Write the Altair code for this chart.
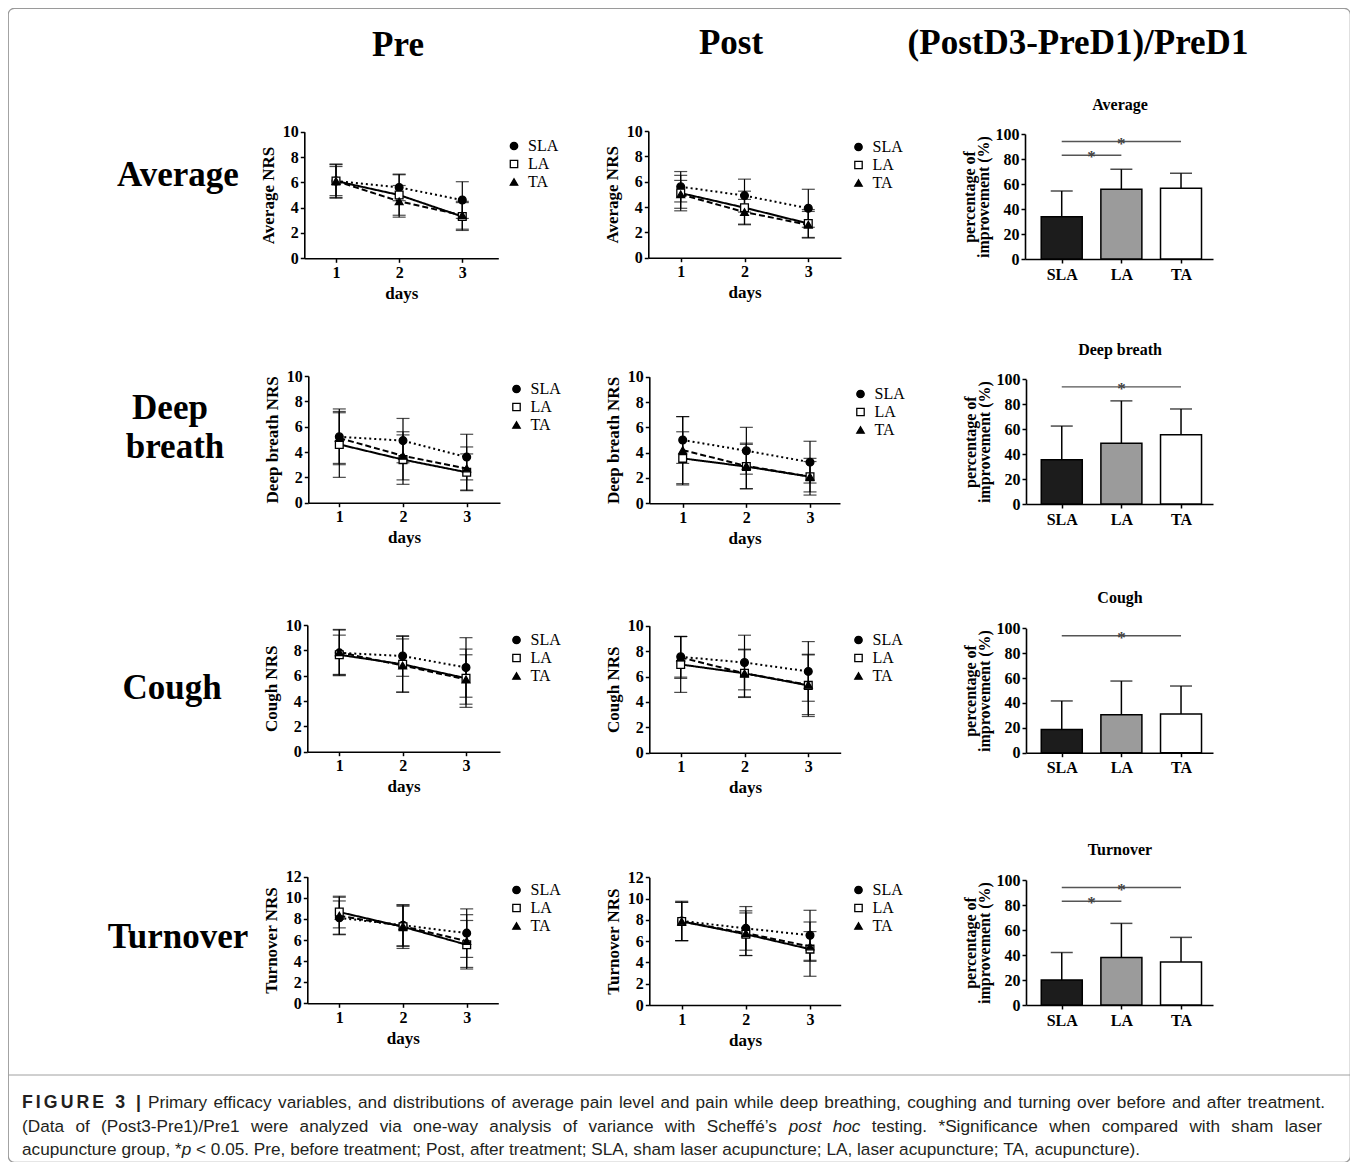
import json
import altair as alt
import pandas as pd

# ---------------- data ----------------
DAYS = [1, 2, 3]
GROUPS = ["SLA", "LA", "TA"]

pre_average_mean = {"SLA": [6.1, 5.6, 4.6], "LA": [6.1, 5.0, 3.3], "TA": [6.1, 4.5, 3.4]}
pre_average_sd = {"SLA": [1.3, 1.05, 1.45], "LA": [1.35, 1.6, 1.1], "TA": [1.15, 1.25, 1.1]}
post_average_mean = {"SLA": [5.6, 4.9, 3.9], "LA": [5.1, 3.95, 2.7], "TA": [5.0, 3.6, 2.6]}
post_average_sd = {"SLA": [1.2, 1.3, 1.5], "LA": [1.4, 1.3, 1.1], "TA": [1.1, 1.0, 1.05]}

pre_deep_mean = {"SLA": [5.2, 4.9, 3.6], "LA": [4.6, 3.4, 2.4], "TA": [5.1, 3.7, 2.7]}
pre_deep_sd = {"SLA": [2.2, 1.75, 1.8], "LA": [2.6, 1.95, 1.45], "TA": [2.0, 1.9, 1.7]}
post_deep_mean = {"SLA": [5.0, 4.15, 3.25], "LA": [3.55, 2.9, 2.1], "TA": [4.2, 2.95, 2.1]}
post_deep_sd = {"SLA": [1.85, 1.85, 1.65], "LA": [2.1, 1.75, 1.2], "TA": [2.65, 1.8, 1.45]}

pre_cough_mean = {"SLA": [7.8, 7.55, 6.65], "LA": [7.65, 6.9, 5.8], "TA": [7.85, 6.8, 5.7]}
pre_cough_sd = {"SLA": [1.8, 1.6, 2.35], "LA": [1.55, 2.2, 2.3], "TA": [1.8, 2.1, 1.95]}
post_cough_mean = {"SLA": [7.55, 7.1, 6.4], "LA": [6.95, 6.25, 5.3], "TA": [7.5, 6.25, 5.35]}
post_cough_sd = {"SLA": [1.6, 2.15, 2.35], "LA": [2.2, 1.9, 2.45], "TA": [1.65, 1.85, 2.35]}

pre_turn_mean = {"SLA": [8.1, 7.4, 6.65], "LA": [8.65, 7.25, 5.55], "TA": [8.3, 7.3, 5.9]}
pre_turn_sd = {"SLA": [1.6, 1.95, 2.3], "LA": [1.5, 2.05, 2.3], "TA": [1.75, 1.9, 2.5]}
post_turn_mean = {"SLA": [7.9, 7.2, 6.55], "LA": [7.85, 6.65, 5.25], "TA": [7.85, 6.75, 5.5]}
post_turn_sd = {"SLA": [1.85, 2.05, 2.35], "LA": [1.8, 2.0, 2.55], "TA": [1.8, 2.1, 1.4]}

average_impr = [33.8, 55.8, 56.6]
average_impr_sd = [20.6, 16.0, 12.0]
average_sig = [(1, 3, 94), (1, 2, 83)]
deep_impr = [35.5, 48.7, 55.5]
deep_impr_sd = [27.0, 34.0, 20.7]
deep_sig = [(1, 3, 94)]
cough_impr = [18.6, 30.5, 31.2]
cough_impr_sd = [23.0, 27.1, 22.4]
cough_sig = [(1, 3, 94)]
turn_impr = [20.0, 38.0, 34.5]
turn_impr_sd = [22.0, 27.3, 19.6]
turn_sig = [(1, 3, 94), (1, 2, 83)]

col_titles = ["Pre", "Post", "(PostD3-PreD1)/PreD1"]
row_titles = ["Average", "Deep breath", "Cough", "Turnover"]
caption_bold = "FIGURE 3 |"
caption_l1 = "Primary efficacy variables, and distributions of average pain level and pain while deep breathing, coughing and turning over before and after treatment."
caption_l2 = "(Data of (Post3-Pre1)/Pre1 were analyzed via one-way analysis of variance with Scheffé’s _post_ _hoc_ testing. *Significance when compared with sham laser"
caption_l3 = "acupuncture group, *_p_ < 0.05. Pre, before treatment; Post, after treatment; SLA, sham laser acupuncture; LA, laser acupuncture; TA, acupuncture)."

# ---------------- layout ----------------
OFF = 8
W, H = 1342, 1154
SERIF = "Liberation Serif"
SANS = "Liberation Sans"
LINE_STYLE = {"SLA": [2, 3], "LA": [1, 0], "TA": [6, 3]}


def P(v):
    return v - OFF


def dummy():
    return pd.DataFrame({"k": [0]})


def label(text, x, y, size, weight="bold", font=SERIF, align="center", style="normal", color="black"):
    return alt.Chart(dummy()).mark_text(
        text=text, font=font, fontSize=size, fontWeight=weight, fontStyle=style,
        align=align, baseline="middle", color=color, fill=color
    ).encode(x=alt.value(P(x)), y=alt.value(P(y)))


def line_panel(means, sds, ymax, ytitle, ax_x, t1, t3, xend, y0, ytop, leg_cx, leg_cy):
    rows = []
    for g in GROUPS:
        for d, m, s in zip(DAYS, means[g], sds[g]):
            rows.append({"day": d, "group": g, "mean": m, "lo": m - s, "hi": m + s})
    df = pd.DataFrame(rows)
    ppd = (t3 - t1) / 2.0
    dlo = 1 - (t1 - ax_x) / ppd
    dhi = 3 + (xend - t3) / ppd
    xs = alt.Scale(domain=[dlo, dhi], range=[P(ax_x), P(xend)], nice=False, zero=False)
    ys = alt.Scale(domain=[0, ymax], range=[P(y0), P(ytop)], nice=False, zero=False)
    xax = alt.Axis(orient="bottom", offset=P(y0) - H, values=DAYS, title="days", titlePadding=5, format="d")
    yax = alt.Axis(orient="left", offset=-P(ax_x), values=list(range(0, ymax + 1, 2)), title=ytitle, titlePadding=5)
    X = alt.X("day:Q", scale=xs, axis=xax)

    def Y(f):
        return alt.Y(f, scale=ys, axis=yax)

    base = alt.Chart(df)
    parts = []
    parts.append(base.mark_rule(color="black", strokeWidth=1.2).encode(x=X, y=Y("lo:Q"), y2="hi:Q"))
    parts.append(base.mark_tick(orient="horizontal", size=13, thickness=1.2, color="black").encode(x=X, y=Y("lo:Q")))
    parts.append(base.mark_tick(orient="horizontal", size=13, thickness=1.2, color="black").encode(x=X, y=Y("hi:Q")))
    for g in GROUPS:
        parts.append(base.transform_filter(alt.datum.group == g).mark_line(
            color="black", strokeWidth=2, strokeDash=LINE_STYLE[g]).encode(x=X, y=Y("mean:Q")))
    leg = alt.Legend(orient="none", legendX=P(leg_cx - 7.5), legendY=P(leg_cy - 8), title=None,
                     symbolStrokeWidth=1.3)
    parts.append(base.mark_point(filled=False, size=60, strokeWidth=1.3, opacity=1).encode(
        x=X, y=Y("mean:Q"),
        shape=alt.Shape("group:N", scale=alt.Scale(domain=GROUPS, range=["circle", "square", "triangle-up"]), legend=leg),
        fill=alt.Fill("group:N", scale=alt.Scale(domain=GROUPS, range=["black", "white", "black"]), legend=leg),
        stroke=alt.Stroke("group:N", scale=alt.Scale(domain=GROUPS, range=["black", "black", "black"]), legend=leg),
    ))
    return alt.layer(*parts)


def bar_panel(means, sds, sig, ax_x, y0, ytop):
    df = pd.DataFrame({"pos": [1, 2, 3], "group": GROUPS, "mean": means,
                       "hi": [m + s for m, s in zip(means, sds)]})
    sdf = pd.DataFrame({"x1": [a for a, b, c in sig], "x2": [b for a, b, c in sig],
                        "y": [c for a, b, c in sig], "mid": [(a + b) / 2 for a, b, c in sig]})
    c1, ppd, xend = 1058.5, 63.0, 1213
    dlo = 1 - (c1 - ax_x) / ppd
    dhi = 1 + (xend - c1) / ppd
    xs = alt.Scale(domain=[dlo, dhi], range=[P(ax_x), P(xend)], nice=False, zero=False)
    ys = alt.Scale(domain=[0, 100], range=[P(y0), P(ytop)], nice=False, zero=True)
    xax = alt.Axis(orient="bottom", offset=P(y0) - H, values=[1, 2, 3],
                   labelExpr=json.dumps(GROUPS) + "[datum.value - 1]", title=None, labelFontSize=16, labelPadding=3)
    yax = alt.Axis(orient="left", offset=-P(ax_x), values=list(range(0, 101, 20)),
                   title=["percentage of", "improvement (%)"], titlePadding=4, titleLineHeight=14,
                   titleFontSize=16)
    X = alt.X("pos:Q", scale=xs, axis=xax)

    def Y(f):
        return alt.Y(f, scale=ys, axis=yax)

    base = alt.Chart(df)
    bars = base.mark_bar(orient="vertical", size=41, stroke="black", strokeWidth=1.5).encode(
        x=X, y=Y("mean:Q"),
        fill=alt.Fill("group:N", scale=alt.Scale(domain=GROUPS, range=["#1c1c1c", "#9b9b9b", "#ffffff"]), legend=None),
    )
    err = base.mark_rule(color="black", strokeWidth=1.5).encode(x=X, y=Y("mean:Q"), y2="hi:Q")
    cap = base.mark_tick(orient="horizontal", size=22, thickness=1.5, color="black").encode(x=X, y=Y("hi:Q"))
    sbase = alt.Chart(sdf)
    srule = sbase.mark_rule(color="#555555", strokeWidth=1.3).encode(
        x=alt.X("x1:Q", scale=xs, axis=xax), x2="x2:Q", y=Y("y:Q"))
    star = sbase.mark_text(text="*", fontSize=17, fontWeight="bold", dy=2, baseline="middle",
                           color="#444444", fill="#444444", font=SERIF).encode(
        x=alt.X("mid:Q", scale=xs, axis=xax), y=Y("y:Q"))
    return alt.layer(bars, err, cap, srule, star)


# ---------------- panels ----------------
layers = []
# row 1
layers.append(line_panel(pre_average_mean, pre_average_sd, 10, "Average NRS", 304.3, 336.0, 462.3, 498.3, 258.3, 131.7, 513.5, 146.0))
layers.append(line_panel(post_average_mean, post_average_sd, 10, "Average NRS", 648.3, 680.7, 808.3, 841.0, 257.7, 131.0, 858.0, 147.0))
layers.append(bar_panel(average_impr, average_impr_sd, average_sig, 1025.0, 259.0, 134.0))
# row 2
layers.append(line_panel(pre_deep_mean, pre_deep_sd, 10, "Deep breath NRS", 308.3, 339.3, 466.7, 500.0, 502.7, 376.0, 516.0, 389.0))
layers.append(line_panel(post_deep_mean, post_deep_sd, 10, "Deep breath NRS", 649.3, 682.7, 810.0, 840.0, 503.3, 376.7, 860.0, 394.0))
layers.append(bar_panel(deep_impr, deep_impr_sd, deep_sig, 1026.0, 504.0, 379.3))
# row 3
layers.append(line_panel(pre_cough_mean, pre_cough_sd, 10, "Cough NRS", 307.3, 339.3, 466.0, 500.0, 751.7, 625.0, 516.0, 640.0))
layers.append(line_panel(post_cough_mean, post_cough_sd, 10, "Cough NRS", 649.3, 680.7, 808.3, 840.7, 752.7, 625.7, 858.0, 640.0))
layers.append(bar_panel(cough_impr, cough_impr_sd, cough_sig, 1026.0, 752.7, 628.3))
# row 4
layers.append(line_panel(pre_turn_mean, pre_turn_sd, 12, "Turnover NRS", 307.3, 339.3, 466.7, 498.3, 1003.3, 876.7, 516.0, 890.0))
layers.append(line_panel(post_turn_mean, post_turn_sd, 12, "Turnover NRS", 649.3, 681.7, 810.0, 840.7, 1005.0, 877.3, 858.0, 890.0))
layers.append(bar_panel(turn_impr, turn_impr_sd, turn_sig, 1026.0, 1005.0, 880.0))

# column titles
layers.append(label(col_titles[0], 398, 45, 35))
layers.append(label(col_titles[1], 731, 43, 35))
layers.append(label(col_titles[2], 1078, 43, 35))
# row titles
layers.append(label(row_titles[0], 178, 175, 35))
layers.append(label(row_titles[1].split(" ")[0], 170, 408, 35))
layers.append(label(row_titles[1].split(" ")[1], 175, 447, 35))
layers.append(label(row_titles[2], 172, 688, 35))
layers.append(label(row_titles[3], 178, 937, 35))
# bar panel titles
layers.append(label(row_titles[0], 1120, 105, 16))
layers.append(label(row_titles[1], 1120, 350, 16))
layers.append(label(row_titles[2], 1120, 598, 16))
layers.append(label(row_titles[3], 1120, 850, 16))

# caption separator
layers.append(alt.Chart(dummy()).mark_rule(color="#a0a0a0", strokeWidth=1).encode(
    x=alt.value(0), x2=alt.value(W), y=alt.value(P(1075))))

# caption text (Arial metrics, justified lines)
AW = {' ': 278, '!': 278, '"': 355, '#': 556, '$': 556, '%': 889, '&': 667, "'": 191, '(': 333, ')': 333,
      '*': 389, '+': 584, ',': 278, '-': 333, '.': 278, '/': 278, ':': 278, ';': 278, '<': 584, '=': 584,
      '>': 584, '?': 556, '|': 260, 'é': 556, '’': 222,
      'A': 667, 'B': 667, 'C': 722, 'D': 722, 'E': 667, 'F': 611, 'G': 778, 'H': 722, 'I': 278, 'J': 500,
      'K': 667, 'L': 556, 'M': 833, 'N': 722, 'O': 778, 'P': 667, 'Q': 778, 'R': 722, 'S': 667, 'T': 611,
      'U': 722, 'V': 667, 'W': 944, 'X': 667, 'Y': 667, 'Z': 611,
      'a': 556, 'b': 556, 'c': 500, 'd': 556, 'e': 556, 'f': 278, 'g': 556, 'h': 556, 'i': 222, 'j': 222,
      'k': 500, 'l': 222, 'm': 833, 'n': 556, 'o': 556, 'p': 556, 'q': 556, 'r': 333, 's': 500, 't': 278,
      'u': 556, 'v': 500, 'w': 722, 'x': 500, 'y': 500, 'z': 500}
ABW = {'F': 611, 'I': 278, 'G': 778, 'U': 722, 'R': 722, 'E': 667, ' ': 278, '3': 556, '|': 280}


def em(s):
    return sum(AW.get(c, 556 if c.isdigit() else 500) for c in s) / 1000.0


def plain(s):
    return s.replace("_", "")


CAP_COLOR = "#231f20"
CAP_X = 22
FS = (1140.0 - CAP_X) / em(plain(caption_l3))


def caption_line(text, x0, y, x1=None):
    words = text.split(" ")
    widths = [em(plain(w)) * FS for w in words]
    space = em(" ") * FS
    if x1 is not None and len(words) > 1:
        gap = (x1 - x0 - sum(widths)) / (len(words) - 1)
    else:
        gap = space
    out = []
    x = x0
    for w, wd in zip(words, widths):
        parts = w.split("_")
        xx = x
        for i, p in enumerate(parts):
            if p:
                out.append(label(p, xx, y, FS, weight="normal", font=SANS, align="left",
                                 style="italic" if i % 2 == 1 else "normal", color=CAP_COLOR))
                xx += em(p) * FS
        x += wd + gap
    return out


# bold figure label, letter-spaced to fill its slot
BFS = FS + 0.5
bold_w = sum(ABW[c] for c in caption_bold) / 1000.0 * BFS
spacing = (141.0 - CAP_X - bold_w) / (len(caption_bold) - 1)
bx = CAP_X
for ch in caption_bold:
    if ch != " ":
        layers.append(label(ch, bx, 1103, BFS, weight="bold", font=SANS, align="left", color=CAP_COLOR))
    bx += ABW[ch] / 1000.0 * BFS + spacing

layers += caption_line(caption_l1, 148, 1103, 1325)
layers += caption_line(caption_l2, CAP_X, 1127, 1322)
layers += caption_line(caption_l3, CAP_X, 1150)

chart = alt.layer(*layers).properties(
    width=W, height=H, padding=0, autosize=alt.AutoSizeParams(type="none")
).resolve_scale(
    x="independent", y="independent", shape="independent", fill="independent", stroke="independent"
).resolve_axis(
    x="independent", y="independent"
).resolve_legend(
    shape="independent", fill="independent", stroke="independent"
).configure_view(
    stroke="#9a9a9a", strokeWidth=1.2, cornerRadius=6
).configure_axis(
    grid=False, domainColor="black", domainWidth=1.6, tickColor="black", tickWidth=1.5, tickSize=4,
    labelFont=SERIF, labelFontWeight="bold", labelFontSize=16, labelColor="black", labelPadding=2,
    titleFont=SERIF, titleFontWeight="bold", titleFontSize=17, titleColor="black"
).configure_legend(
    labelFont=SERIF, labelFontSize=16, labelColor="black", labelFontWeight="normal",
    symbolSize=55, symbolStrokeWidth=1.3, labelOffset=6,
    rowPadding=2, padding=0
)

chart.save("out.html", embed_options={"renderer": "svg", "actions": False})
